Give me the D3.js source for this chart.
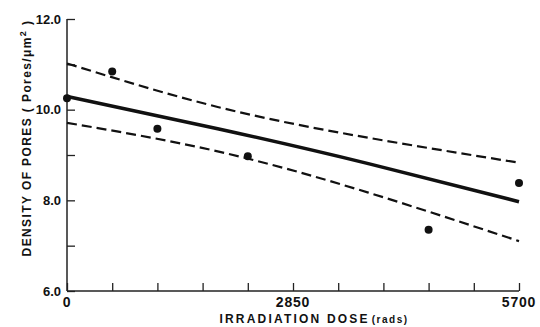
<!DOCTYPE html>
<html>
<head>
<meta charset="utf-8">
<script src="https://cdn.jsdelivr.net/npm/d3@7"></script>
<style>
    body { margin: 0; background: #fff; }
    svg { display: block; }
    text { font-family: "Liberation Sans", Arial, sans-serif; font-weight: bold; fill: #111; }
</style>
</head>
<body>
<svg id="chart" width="540" height="327"></svg>
<script>
// measured points
const doses = [0, 570, 1140, 2280, 4560, 5700];
const densities = [10.25, 10.84, 9.58, 8.97, 7.35, 8.38];

// fitted line and bands
const fitDoses = [0, 1900, 3800, 5700];
const fitValues = [10.29, 9.58, 8.81, 7.97];
const upperValues = [11.02, 10.06, 9.38, 8.83];
const lowerValues = [9.71, 9.08, 8.17, 7.10];

const xTicks = [0, 570, 1140, 1710, 2280, 2850, 3420, 3990, 4560, 5130, 5700];
const xLabels = [0, 2850, 5700];
const yTicks = [6, 7, 8, 9, 10, 11, 12];
const yLabels = [6, 8, 10, 12];

let svg = d3.select("#chart");

let x = d3.scaleLinear()
    .domain([0, 5700])
    .range([67, 519]);

let y = d3.scaleLinear()
    .domain([6, 12])
    .range([291, 19]);

// axes
let yAxis = svg.append("g")
    .attr("transform", "translate(" + x(0) + ",0)")
    .call(d3.axisRight(y).tickValues(yTicks).tickSize(8).tickFormat(""));

let xAxis = svg.append("g")
    .attr("transform", "translate(0," + y(6) + ")")
    .call(d3.axisTop(x).tickValues(xTicks).tickSize(8).tickFormat(""));

[yAxis, xAxis].forEach(a => {
    a.select(".domain").attr("stroke", "#222").attr("stroke-width", 1.5);
    a.selectAll(".tick line").attr("stroke", "#222").attr("stroke-width", 1.3);
});
yAxis.select(".domain").attr("d", "M0," + y(12) + "V" + y(6));
xAxis.select(".domain").attr("d", "M" + x(0) + ",0H" + x(5700));

// tick labels
svg.append("g").selectAll("text")
    .data(yLabels)
    .enter().append("text")
    .attr("x", 61)
    .attr("y", d => y(d))
    .attr("dy", "0.35em")
    .attr("text-anchor", "end")
    .style("font-size", "13px")
    .text(d => d.toFixed(1));

svg.append("g").selectAll("text")
    .data(xLabels)
    .enter().append("text")
    .attr("x", d => x(d))
    .attr("y", 307)
    .attr("text-anchor", "middle")
    .style("font-size", "14px")
    .style("letter-spacing", "0.8px")
    .text(d => d);

// axis titles
svg.append("text")
    .attr("x", 314)
    .attr("y", 323)
    .attr("text-anchor", "middle")
    .style("font-size", "12px")
    .style("letter-spacing", "2.2px")
    .html('IRRADIATION DOSE<tspan style="font-size:10px;letter-spacing:1.5px" dx="2">(rads)</tspan>');

svg.append("text")
    .attr("transform", "translate(31,138) rotate(-90)")
    .attr("text-anchor", "middle")
    .style("font-size", "12px")
    .style("letter-spacing", "1.4px")
    .html('DENSITY OF PORES ( Pores/μm<tspan dy="-5" style="font-size:9px">2</tspan><tspan dy="5"> )</tspan>');

// fit and bands
let line = d3.line()
    .x(d => x(d[0]))
    .y(d => y(d[1]))
    .curve(d3.curveNatural);

function pairs(vals) {
    return fitDoses.map((d, i) => [d, vals[i]]);
}

[upperValues, lowerValues].forEach(vals => {
    svg.append("path")
        .attr("d", line(pairs(vals)))
        .attr("fill", "none")
        .attr("stroke", "#111")
        .attr("stroke-width", 2.2)
        .attr("stroke-dasharray", "10,5");
});

svg.append("path")
    .attr("d", line(pairs(fitValues)))
    .attr("fill", "none")
    .attr("stroke", "#111")
    .attr("stroke-width", 3.5);

// points
svg.append("g").selectAll("circle")
    .data(doses.map((d, i) => [d, densities[i]]))
    .enter().append("circle")
    .attr("cx", d => x(d[0]))
    .attr("cy", d => y(d[1]))
    .attr("r", 4)
    .attr("fill", "#111");
</script>
</body>
</html>
